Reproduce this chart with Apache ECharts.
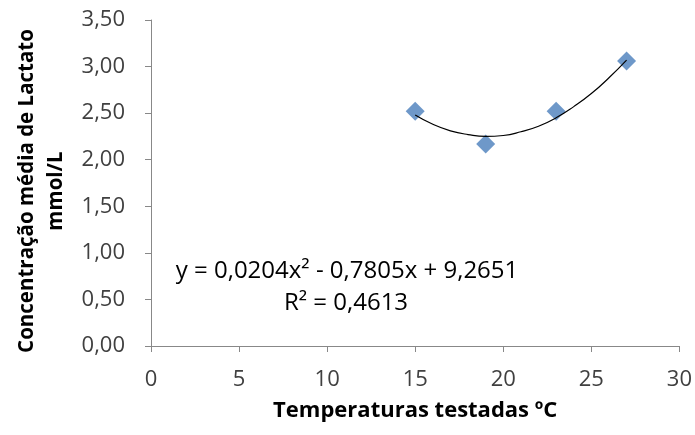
<!DOCTYPE html>
<html>
<head>
<meta charset="utf-8">
<script src="https://cdn.jsdelivr.net/npm/echarts@6/dist/echarts.min.js"></script>
<style>html,body{margin:0;padding:0;background:#fff}#c{width:695px;height:435px}</style>
</head>
<body>
<div id="c"></div>
<script>
// Measured means
var temperatures = [15, 19, 23, 27];
var lactate = [2.52, 2.17, 2.52, 3.06];
// Trendline values
var trendX = [15, 16, 17, 18, 19, 20, 21, 22, 23, 24, 25, 26, 27];
var trendY = [2.48, 2.38, 2.31, 2.27, 2.25, 2.26, 2.30, 2.36, 2.45, 2.57, 2.71, 2.88, 3.07];
var equationText = 'y = 0,0204x² - 0,7805x + 9,2651';
var r2Text = 'R² = 0,4613';
var xTitle = 'Temperaturas testadas ºC';
var yTitle = 'Concentração média de Lactato\nmmol/L';

var FONT = '"Open Sans", sans-serif';
var chart = echarts.init(document.getElementById('c'), null, {renderer: 'canvas'});
function fmt(v) { return v.toFixed(2).replace('.', ','); }
chart.setOption({
  animation: false,
  backgroundColor: '#ffffff',
  grid: {left: 151, right: 15, top: 20, bottom: 89, containLabel: false},
  xAxis: {
    type: 'value', min: 0, max: 30, interval: 5,
    name: xTitle, nameLocation: 'middle', nameGap: 54,
    nameTextStyle: {fontFamily: FONT, fontSize: 22, fontWeight: 'bold', color: '#000'},
    axisLine: {show: true, onZero: false, lineStyle: {color: '#888', width: 1}},
    axisTick: {show: true, length: 6, lineStyle: {color: '#888'}},
    axisLabel: {fontFamily: FONT, fontSize: 22, color: '#404040', margin: 23},
    splitLine: {show: false}
  },
  yAxis: {
    type: 'value', min: 0, max: 3.5, interval: 0.5,
    axisLine: {show: true, lineStyle: {color: '#888', width: 1}},
    axisTick: {show: true, length: 6, lineStyle: {color: '#888'}},
    axisLabel: {fontFamily: FONT, fontSize: 22, color: '#404040', margin: 26, formatter: fmt},
    splitLine: {show: false}
  },
  series: [
    {
      type: 'scatter', name: 'media',
      data: temperatures.map(function (t, i) { return [t, lactate[i]]; }),
      symbol: 'diamond', symbolSize: 19,
      itemStyle: {color: '#4A7EBB'}, z: 2
    },
    {
      type: 'line', name: 'tendencia',
      data: trendX.map(function (t, i) { return [t, trendY[i]]; }),
      smooth: true, symbol: 'none',
      lineStyle: {color: '#000', width: 1.2}, z: 3
    }
  ],
  graphic: [
    {type: 'text', x: 42, y: 191, rotation: Math.PI / 2,
     style: {text: yTitle, font: 'bold 20.5px ' + FONT, fill: '#000', lineHeight: 29, align: 'center', verticalAlign: 'middle', textAlign: 'center', textVerticalAlign: 'middle'}},
    {type: 'text', x: 347, y: 271, style: {text: equationText, font: '24px ' + FONT, fill: '#000', align: 'center', verticalAlign: 'middle', textAlign: 'center', textVerticalAlign: 'middle'}},
    {type: 'text', x: 346, y: 303, style: {text: r2Text, font: '24px ' + FONT, fill: '#000', align: 'center', verticalAlign: 'middle', textAlign: 'center', textVerticalAlign: 'middle'}}
  ]
});
</script>
</body>
</html>
